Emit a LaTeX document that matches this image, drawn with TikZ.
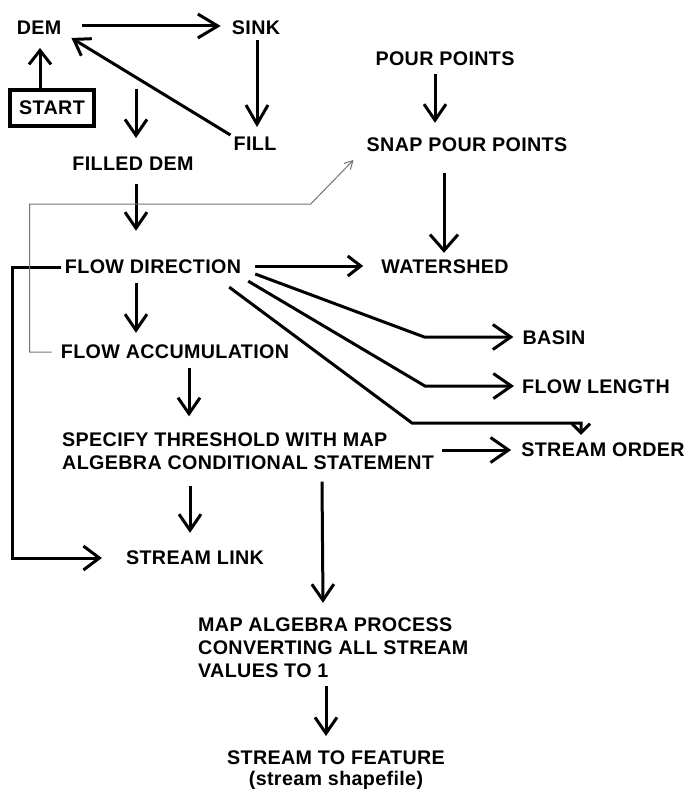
\documentclass[tikz,border=0pt]{standalone}
\usepackage{fontspec}
\setmainfont{Liberation Sans}[LetterSpace=1.8]
\usetikzlibrary{arrows.meta,calc}
\begin{document}
\begin{tikzpicture}[x=1pt,y=-1pt,
  lbl/.style={inner sep=0pt,font=\fontsize{19.7}{23}\selectfont\bfseries},
  flow/.style={line width=3pt,-{Straight Barb[length=16pt,width=22pt]}},
  thin link/.style={line width=1pt,draw=black!55,-{Straight Barb[length=8pt,width=9pt]}}]
\useasboundingbox (0,0) rectangle (686,789);

% process and data nodes
\node[lbl] (dem) at (39,28) {DEM};
\node[lbl] (sink) at (256,28) {SINK};
\node[lbl,draw,line width=4pt,minimum width=84pt,minimum height=36pt] (start) at (52,108) {START};
\node[lbl] (fill) at (255,144) {FILL};
\node[lbl] (filled) at (133,164) {FILLED DEM};
\node[lbl] (pour) at (445,59) {POUR POINTS};
\node[lbl] (snap) at (467,145) {SNAP POUR POINTS};
\node[lbl] (fdir) at (153,267) {FLOW DIRECTION};
\node[lbl] (water) at (445,267) {WATERSHED};
\node[lbl] (facc) at (175,352) {FLOW ACCUMULATION};
\node[lbl] (basin) at (554,338) {BASIN};
\node[lbl] (flen) at (596,387) {FLOW LENGTH};
\node[lbl] (sorder) at (603,450) {STREAM ORDER};
\node[lbl,align=left,anchor=west] (spec) at (62,451) {SPECIFY THRESHOLD WITH MAP\\ALGEBRA CONDITIONAL STATEMENT};
\node[lbl] (slink) at (195,558) {STREAM LINK};
\node[lbl,align=left,anchor=west] (mapalg) at (198,648) {MAP ALGEBRA PROCESS\\CONVERTING ALL STREAM\\VALUES TO 1};
\node[lbl,align=center,anchor=north,font=\fontsize{19.7}{21}\selectfont\bfseries] (feat) at (336,751) {STREAM TO FEATURE\\(stream shapefile)\hspace{8pt}};

\coordinate (fdtop) at (136,89);

% fill loop
\draw[flow,-{Straight Barb[length=14pt,width=22pt]}] ($(start.north)+(-12,0)$) -- ($(dem.south)+(1,13)$);
\draw[flow,-{Straight Barb[length=20pt,width=24pt]}] ($(dem.east)+(21,-2)$) -- ($(sink.west)+(-11,-2)$);
\draw[flow,-{Straight Barb[length=19pt,width=22pt]}] ($(sink.south)+(1,5)$) -- ($(fill.north)+(2,-10)$);
\draw[flow,-{Straight Barb[length=15pt,width=20pt]}] ($(fill.north west)+(-3,-2)$) -- ($(dem.east)+(10,10)$);
\draw[flow] (fdtop) -- ($(filled.north)+(3,-19)$);

% main chain
\draw[flow] ($(filled.south)+(3,13)$) -- ($(fdir.north)+(-17,-29)$);
\draw[flow] ($(fdir.south)+(-17,9)$) -- ($(facc.north)+(-39,-12)$);
\draw[flow] ($(facc.south)+(14,9)$) -- ($(spec.north west)+(127,-16)$);
\draw[flow] ($(spec.south west)+(128,16)$) -- ($(slink.north)+(-5,-18)$);
\draw[flow] ($(spec.south west)+(260,12)$) -- ($(mapalg.north west)+(125,-15)$);
\draw[flow] ($(mapalg.south west)+(128,8)$) -- ($(feat.north)+(-10,-15)$);

% flow direction to stream link
\draw[flow,-{Straight Barb[length=16pt,width=24pt]}] ($(fdir.west)+(-4,0)$) -- ++(-48,0) |- ($(slink.west)+(-24,0)$);

% flow accumulation to snap pour points
\draw[thin link] ($(facc.west)+(-9,0)$) -- ++(-22,0) -- ++(0,-148) -- ++(281,0) -- ($(snap.west)+(-13,15)$);

% pour points branch
\draw[flow] ($(pour.south)+(-10,8)$) -- ($(snap.north)+(-32,-15)$);
\draw[flow,-{Straight Barb[length=16pt,width=28pt]}] ($(snap.south)+(-23,21)$) -- ($(water.north)+(-1,-7)$);

% flow direction outputs
\draw[flow,-{Straight Barb[length=13pt,width=20pt]}] ($(fdir.east)+(14,-1)$) -- ($(water.west)+(-18,-1)$);
\draw[flow,-{Straight Barb[length=18pt,width=25pt]}] ($(fdir.east)+(14,7)$) -- ++(169,63) -- ($(basin.west)+(-9,-1)$);
\draw[flow,-{Straight Barb[length=18pt,width=25pt]}] ($(fdir.south east)+(7,7)$) -- ++(177,105) -- ($(flen.west)+(-8,-1)$);
\draw[flow,-{Straight Barb[length=9pt,width=18pt]}] ($(fdir.south east)+(-12,13)$) -- ++(183,136) -| ($(sorder.north)+(-22,-8)$);
\draw[flow,-{Straight Barb[length=18pt,width=25pt]}] ($(spec.east)+(8,-1)$) -- ($(sorder.west)+(-10,0)$);
\end{tikzpicture}
\end{document}
